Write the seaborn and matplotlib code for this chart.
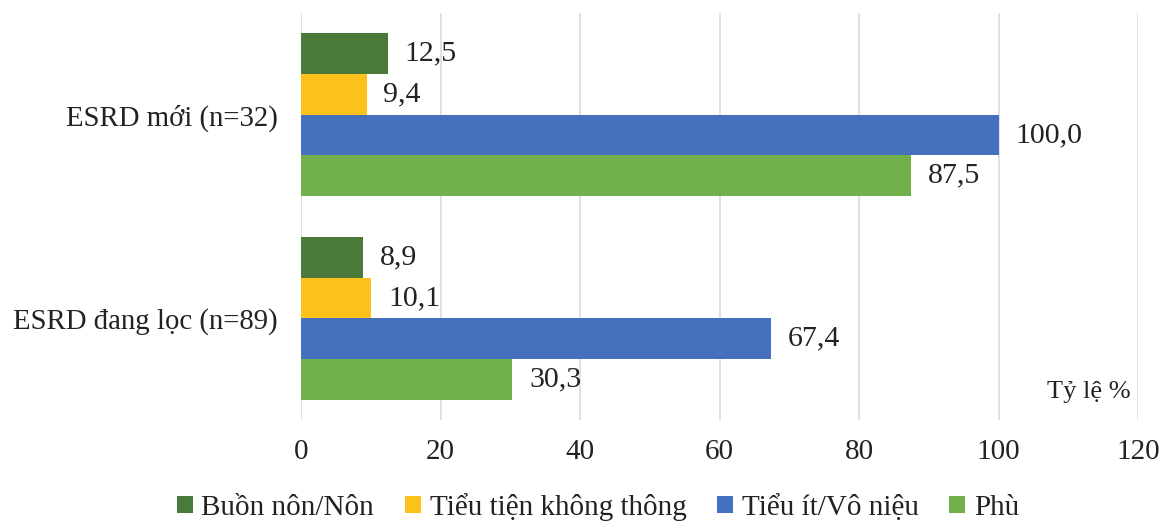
import matplotlib
matplotlib.use("Agg")
import matplotlib.pyplot as plt
import seaborn as sns
import pandas as pd

categories = ["ESRD mới (n=32)", "ESRD đang lọc (n=89)"]
series = ["Buồn nôn/Nôn", "Tiểu tiện không thông", "Tiểu ít/Vô niệu", "Phù"]
values = {
    "Buồn nôn/Nôn": [12.5, 8.9],
    "Tiểu tiện không thông": [9.4, 10.1],
    "Tiểu ít/Vô niệu": [100.0, 67.4],
    "Phù": [87.5, 30.3],
}
colors = ["#4a7a39", "#fcc11a", "#4470be", "#71b04b"]
x_ticks = [0, 20, 40, 60, 80, 100, 120]
x_label = "Tỷ lệ %"

rows = []
for s in series:
    for c, v in zip(categories, values[s]):
        rows.append({"cat": c, "series": s, "val": v})
df = pd.DataFrame(rows)

sns.set_theme(style="white")
plt.rcParams["font.family"] = ["Liberation Serif", "DejaVu Serif"]

fig = plt.figure(figsize=(11.63, 5.22), dpi=100)
ax = fig.add_axes([301/1163, 1-420/522, (1138-301)/1163, (420-13)/522])

sns.barplot(data=df, y="cat", x="val", hue="series", order=categories,
            hue_order=series, palette=colors, orient="h", width=0.8,
            saturation=1, ax=ax, legend=True, errorbar=None, linewidth=0)

for cont in ax.containers:
    labs = [f"{b.get_width():.1f}".replace(".", ",") for b in cont]
    ax.bar_label(cont, labels=labs, padding=12, fontsize=21.5, color="#222222")

ax.set_xlim(0, 120)
ax.set_xticks(x_ticks)
ax.set_xticklabels([str(t) for t in x_ticks])
ax.set_ylim(1.5, -0.5)
ax.grid(axis="x", color="#d9dee8", linewidth=1.3)
ax.grid(axis="y", visible=False)
ax.set_axisbelow(True)
for sp in ax.spines.values():
    sp.set_visible(False)
ax.tick_params(axis="x", length=0, pad=14, labelsize=21, labelcolor="#222222")
ax.tick_params(axis="y", length=0, pad=17, labelsize=20.7, labelcolor="#222222")
ax.set_xlabel("")
ax.set_ylabel("")
ax.text(1131/1163, 1-392/522, x_label, transform=fig.transFigure, ha="right",
        va="center", fontsize=19, color="#222222")

handles, labels = ax.get_legend_handles_labels()
ax.get_legend().remove()
fig.legend(handles, labels, loc="center", bbox_to_anchor=(598/1163, 1-507/522),
           ncol=4, frameon=False, fontsize=21, handlelength=0.55, handleheight=0.55,
           handletextpad=0.3, columnspacing=1.05, labelcolor="#222222",
           borderpad=0.1)

fig.savefig("out.png", dpi=100)
